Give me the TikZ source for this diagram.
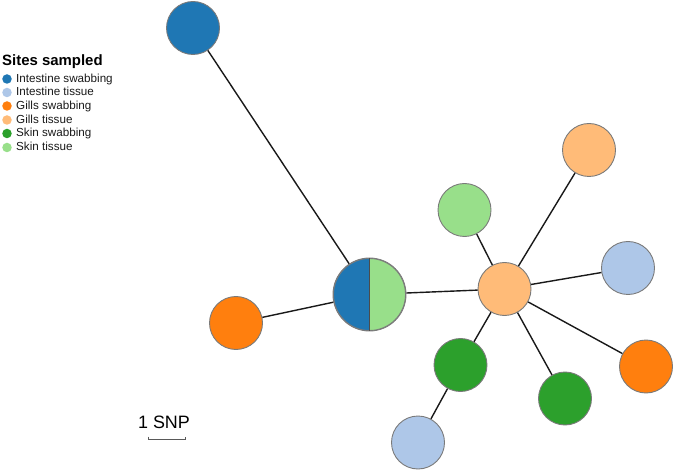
\documentclass[tikz,border=0pt]{standalone}
\usepackage{fontspec}
\usetikzlibrary{calc}
\setmainfont{Liberation Sans}
\definecolor{isw}{HTML}{1F77B4}
\definecolor{iti}{HTML}{AEC7E8}
\definecolor{gsw}{HTML}{FF7F0E}
\definecolor{gti}{HTML}{FFBB78}
\definecolor{ssw}{HTML}{2CA02C}
\definecolor{sti}{HTML}{98DF8A}
\definecolor{rim}{HTML}{7A7A7A}
\begin{document}
\begin{tikzpicture}[x=1bp,y=-1bp,
  hap/.style={circle,inner sep=0pt,minimum size=#1,draw=rim,line width=0.9bp},
  hap/.default=53bp,
  link/.style={draw=black!90,line width=1.4bp},
  legdot/.style={circle,inner sep=0pt,minimum size=9.5bp},
  legtxt/.style={anchor=base west,inner sep=0pt,font=\fontsize{11.7}{13}\selectfont,text=black!90},
]
\useasboundingbox (0,0) rectangle (675,472);
% haplotype nodes
\node[hap,fill=isw] (h1) at (193,28) {};
\node[hap=73bp] (c) at (369.5,294.5) {};
\node[hap,fill=gsw] (h2) at (236,323) {};
\node[hap,fill=gti] (hub) at (504.5,289) {};
\node[hap,fill=sti] (h3) at (464.5,210) {};
\node[hap,fill=gti] (h4) at (589,150) {};
\node[hap,fill=iti] (h5) at (628,268) {};
\node[hap,fill=gsw] (h6) at (646,366.5) {};
\node[hap,fill=ssw] (h7) at (460.5,365) {};
\node[hap,fill=ssw] (h8) at (565,398.5) {};
\node[hap,fill=iti] (h9) at (418,442.5) {};
% split central node
\begin{scope}
  \clip ($(c.center)+(-40,-40)$) rectangle ($(c.center)+(0,40)$);
  \fill[isw] (c.center) circle[radius=36bp];
\end{scope}
\begin{scope}
  \clip ($(c.center)+(0,-40)$) rectangle ($(c.center)+(40,40)$);
  \fill[sti] (c.center) circle[radius=36bp];
\end{scope}
\draw[rim,line width=0.9bp] (c.center) circle[radius=36bp];
\draw[black!70,line width=0.9bp] (c.north) -- (c.south);
% links
\draw[link] (h1) -- (c);
\draw[link] (h2) -- (c);
\draw[link] (c) -- (hub);
\draw[link] (hub) -- (h3);
\draw[link] (hub) -- (h4);
\draw[link] (hub) -- (h5);
\draw[link] (hub) -- (h6);
\draw[link] (hub) -- (h7);
\draw[link] (hub) -- (h8);
\draw[link] (h7) -- (h9);
% legend
\node[anchor=base west,inner sep=0pt,font=\fontsize{15}{17}\selectfont\bfseries] (ttl) at (2,65.5) {Sites sampled};
\node[legdot,fill=isw] (d1) at (7,79) {};
\node[legtxt] (t1) at (16,82.5) {Intestine swabbing};
\node[legdot,fill=iti] (d2) at (7,92.5) {};
\node[legtxt] (t2) at (16,96) {Intestine tissue};
\node[legdot,fill=gsw] (d3) at (7,106) {};
\node[legtxt] (t3) at (16,109.5) {Gills swabbing};
\node[legdot,fill=gti] (d4) at (7,120) {};
\node[legtxt] (t4) at (16,123.5) {Gills tissue};
\node[legdot,fill=ssw] (d5) at (7,133.5) {};
\node[legtxt] (t5) at (16,137) {Skin swabbing};
\node[legdot,fill=sti] (d6) at (7,147.5) {};
\node[legtxt] (t6) at (16,151) {Skin tissue};
% scale bar
\node[anchor=base,inner sep=0pt,font=\fontsize{18}{20}\selectfont] (sc) at (164,428) {1 SNP};
\coordinate (sa) at (148,436.5);
\coordinate (sb) at (185,436.5);
\draw[black!65,line width=0.9bp] (sa) -- ++(0,2.5) -- ($(sb)+(0,2.5)$) -- (sb);
\end{tikzpicture}
\end{document}
